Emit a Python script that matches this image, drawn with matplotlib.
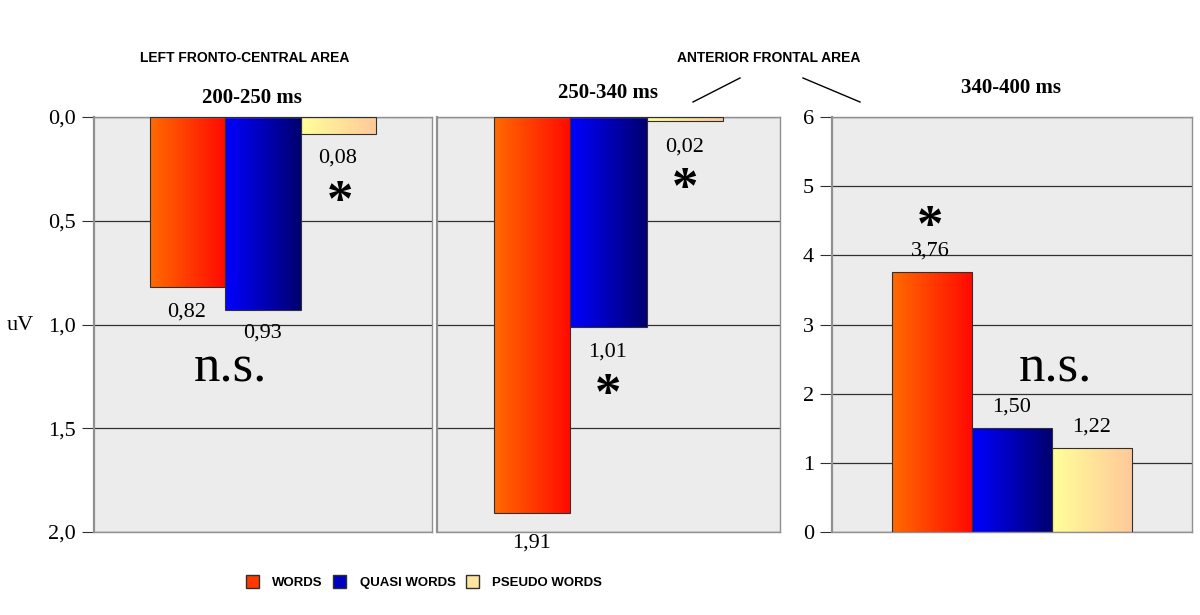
import numpy as np
import matplotlib.pyplot as plt
from matplotlib.colors import LinearSegmentedColormap
from matplotlib.patches import Patch
from matplotlib.ticker import FuncFormatter

# --- data ---
conditions = ['WORDS', 'QUASI WORDS', 'PSEUDO WORDS']
windows = ['200-250 ms', '250-340 ms', '340-400 ms']
vals_200_250 = [0.82, 0.93, 0.08]
vals_250_340 = [1.91, 1.01, 0.02]
vals_340_400 = [3.76, 1.50, 1.22]
areas = ['LEFT FRONTO-CENTRAL AREA', 'ANTERIOR FRONTAL AREA']

grad_colors = [('#ff6a00', '#ff0a00'), ('#0000ff', '#000070'), ('#ffff99', '#ffc999')]
serif = 'Liberation Serif'
sans = 'Liberation Sans'

fig = plt.figure(figsize=(12, 6.15), dpi=100)
bottom, height = 1 - 532 / 615, (532 - 117) / 615
ax1 = fig.add_axes([94 / 1200, bottom, 338 / 1200, height])
ax2 = fig.add_axes([437 / 1200, bottom, 343 / 1200, height])
ax3 = fig.add_axes([832 / 1200, bottom, 360 / 1200, height])


def draw_panel(ax, vals, ylim, ticks, fmt):
    x = np.arange(len(vals))
    ax.set_facecolor('#ececec')
    bars = ax.bar(x, vals, width=1.0, facecolor='none', edgecolor='#303030', linewidth=0.8, zorder=3)
    grad = np.linspace(0, 1, 64).reshape(1, -1)
    for b, (c0, c1) in zip(bars, grad_colors):
        cmap = LinearSegmentedColormap.from_list('g', [c0, c1])
        x0, y0, w, h = b.get_x(), b.get_y(), b.get_width(), b.get_height()
        im = ax.imshow(grad, cmap=cmap, extent=[x0, x0 + w, y0, y0 + h], aspect='auto', zorder=2)
        im.set_clip_path(b)
    ax.set_xlim(-1.25, 3.25)
    ax.set_ylim(*ylim)
    ax.set_yticks(ticks)
    ax.yaxis.set_major_formatter(FuncFormatter(fmt))
    ax.set_xticks([])
    for t in ticks:
        ax.axhline(t, color='#303030', linewidth=0.9, zorder=1)
    for s in ax.spines.values():
        s.set_color('#909090')
        s.set_linewidth(1.0)
    ax.spines['left'].set_linewidth(1.6)
    ax.tick_params(axis='y', length=9, width=0.8, color='#303030', labelsize=16, pad=4)
    for lab in ax.get_yticklabels():
        lab.set_fontfamily(serif)
    return bars


comma1 = lambda v, p: f'{v:.1f}'.replace('.', ',')
draw_panel(ax1, vals_200_250, (2.0, 0.0), [0.0, 0.5, 1.0, 1.5, 2.0], comma1)
draw_panel(ax2, vals_250_340, (2.0, 0.0), [0.0, 0.5, 1.0, 1.5, 2.0], comma1)
ax2.tick_params(axis='y', left=False, labelleft=False)
draw_panel(ax3, vals_340_400, (0, 6), [0, 1, 2, 3, 4, 5, 6], lambda v, p: f'{v:.0f}')

def px(xp, yp, s, **kw):
    fig.text(xp / 1200, 1 - yp / 615, s, ha='center', va='center', **kw)

def lab(v):
    return f'{v:.2f}'.replace('.', ',')

# value labels and significance marks
num = dict(fontfamily=serif, fontsize=16)
star = dict(fontfamily=serif, fontsize=38, fontweight='bold')
ns = dict(fontfamily=serif, fontsize=38)
px(187, 312, lab(vals_200_250[0]), **num)
px(262, 333, lab(vals_200_250[1]), **num)
px(338, 158, lab(vals_200_250[2]), **num)
px(340, 203, '*', **star)
px(230, 368, 'n.s.', **ns)

px(532, 543, lab(vals_250_340[0]), **num)
px(608, 352, lab(vals_250_340[1]), **num)
px(608, 396, '*', **star)
px(685, 147, lab(vals_250_340[2]), **num)
px(685, 190, '*', **star)

px(930, 228, '*', **star)
px(930, 251, lab(vals_340_400[0]), **num)
px(1012, 407, lab(vals_340_400[1]), **num)
px(1092, 427, lab(vals_340_400[2]), **num)
px(1055, 368, 'n.s.', **ns)

# titles
for xp, yp, w in zip([252, 608, 1011], [98, 93, 88], windows):
    px(xp, yp, w, fontfamily=serif, fontsize=15, fontweight='bold')
px(245, 58, areas[0], fontfamily=sans, fontsize=10, fontweight='bold')
px(769, 58, areas[1], fontfamily=sans, fontsize=10, fontweight='bold')
fig.add_artist(plt.Line2D([693 / 1200, 740 / 1200], [1 - 102 / 615, 1 - 78 / 615], color='black', linewidth=1))
fig.add_artist(plt.Line2D([803 / 1200, 860 / 1200], [1 - 78 / 615, 1 - 102 / 615], color='black', linewidth=1))

px(20, 325, 'uV', fontfamily=serif, fontsize=16)

# legend
handles = [Patch(facecolor=c0, edgecolor='#303030', label=n) for (c0, c1), n in zip(grad_colors, conditions)]
handles[0].set_facecolor('#ff3800')
handles[1].set_facecolor('#0000c0')
handles[2].set_facecolor('#ffe4a0')
fig.legend(handles=handles, loc='center', bbox_to_anchor=(424 / 1200, 1 - 582 / 615), ncol=3, frameon=False,
           prop={'family': sans, 'weight': 'bold', 'size': 9.5}, handlelength=1.0, handleheight=1.2,
           columnspacing=0.8, handletextpad=1.0)

fig.savefig('out.png', dpi=100, facecolor='white')
